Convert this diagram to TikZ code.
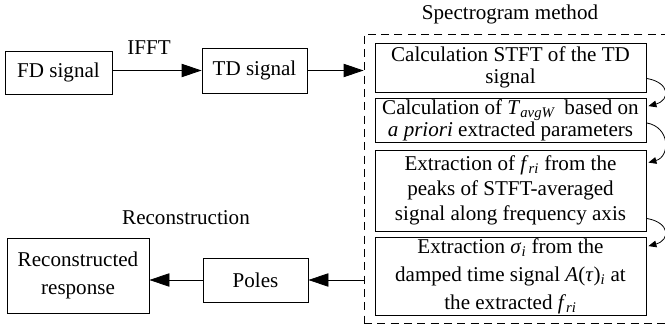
\documentclass[tikz,border=0pt]{standalone}
\usepackage{fontspec}
\setmainfont{Liberation Serif}
\usetikzlibrary{arrows.meta,calc}

\begin{document}
\begin{tikzpicture}[x=0.75pt,y=0.75pt,yscale=-1,xscale=1,
	blk/.style={draw, line width=0.6pt, inner sep=1pt, align=center, font=\fontsize{15.8}{16.5}\selectfont},
	lbl/.style={inner sep=0.75pt, font=\fontsize{15.8}{16.5}\selectfont},
	flow/.style={line width=0.6pt, -{Triangle[length=15pt,width=10pt]}},
	loop/.style={line width=0.6pt, -{Triangle[length=6pt,width=5pt]}}]
	\useasboundingbox (0,0) rectangle (665,331);

	% dashed frame of the spectrogram part
	\node [draw, dash pattern=on 6pt off 4pt, line width=0.6pt, minimum width=308*0.75pt, minimum height=289*0.75pt] (frame) at (518,178.5) {};
	\node [lbl] (spec) at (510,14) {Spectrogram method};

	% left blocks
	\node [blk, minimum width=107*0.75pt, minimum height=43*0.75pt] (fd) at (58.5,72.5) {FD signal};
	\node [blk, minimum width=105*0.75pt, minimum height=45*0.75pt] (td) at (254.5,70.5) {TD signal};
	\node [lbl] (ifft) at (149,48) {IFFT};

	% steps inside the frame
	\node [blk, minimum width=271*0.75pt, minimum height=49*0.75pt] (s1) at (510.5,67.5) {Calculation STFT of the TD\\signal};
	\node [blk, minimum width=271*0.75pt, minimum height=43*0.75pt] (s2) at (510.5,120.5) {Calculation of \textit{T}\textsubscript{\textit{avgW}}\, based on\\\textit{a priori} extracted parameters};
	\node [blk, minimum width=271*0.75pt, minimum height=81*0.75pt, font=\fontsize{15.8}{18.8}\selectfont] (s3) at (510.5,190.5) {Extraction of \textit{f}\textsubscript{\textit{ri}} from the\\peaks of STFT-averaged\\signal along frequency axis};
	\node [blk, minimum width=271*0.75pt, minimum height=75*0.75pt, font=\fontsize{15.8}{21}\selectfont] (s4) at (510.5,276.5) {Extraction \textit{σ}\textsubscript{\textit{i}} from the\\damped time signal \textit{A}(\textit{τ})\textsubscript{\textit{i}} at\\the extracted \textit{f}\textsubscript{\textit{ri}}};

	% reconstruction blocks
	\node [lbl] (rectitle) at (186,218) {Reconstruction};
	\node [blk, minimum width=105*0.75pt, minimum height=44*0.75pt] (poles) at (255.5,280) {Poles};
	\node [blk, minimum width=142*0.75pt, minimum height=75*0.75pt, font=\fontsize{15.8}{20.5}\selectfont] (rec) at (78,275.5) {Reconstructed\\response};

	% arrows
	\draw [flow] (fd.east |- td.west) -- (td.west);
	\draw [flow] (td.east) -- (td.east -| frame.west);
	\draw [flow] (frame.west |- poles.east) -- (poles.east);
	\draw [flow] (poles.west) -- (poles.west -| rec.east);

	\draw [loop] ($(s1.south east)+(0,-14)$) .. controls +(24,4) and +(22,-6) .. ($(s2.north east)+(2,8)$);
	\draw [loop] ($(s2.south east)+(0,-20)$) .. controls +(24,4) and +(22,-6) .. ($(s3.north east)+(2,13)$);
	\draw [loop] ($(s3.south east)+(0,-13)$) .. controls +(24,4) and +(22,-6) .. ($(s4.north east)+(2,9)$);
\end{tikzpicture}
\end{document}
